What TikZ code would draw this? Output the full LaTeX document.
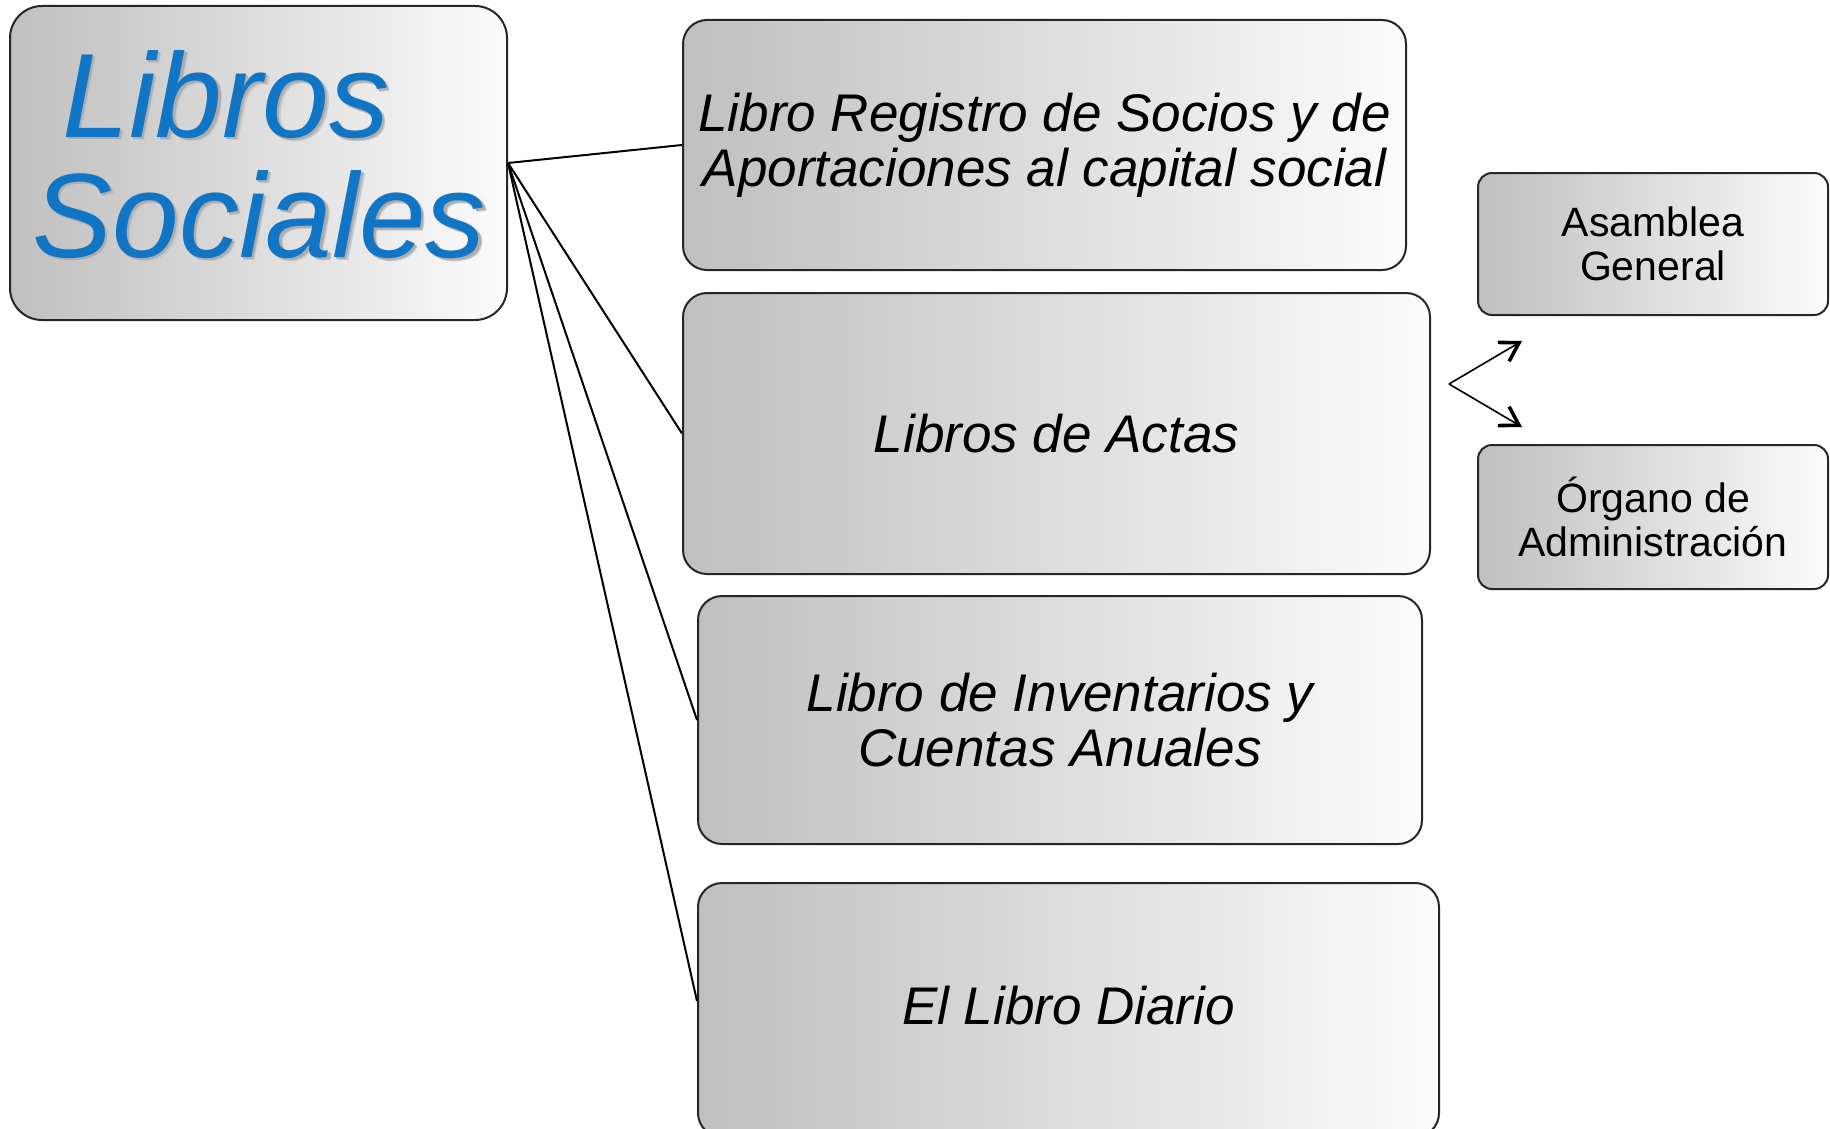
\documentclass[tikz,border=0pt]{standalone}
\usepackage{fontspec}
\setmainfont{Liberation Sans}
\usetikzlibrary{arrows.meta,calc}
\definecolor{gL}{gray}{0.75}
\definecolor{gR}{gray}{0.985}
\definecolor{lblue}{RGB}{16,117,196}
\newcommand{\shadowed}[1]{\makebox[0pt][l]{\hspace{1.8pt}\raisebox{-1.8pt}{\textcolor{black!22}{#1}}}\makebox[0pt][l]{\hspace{1.2pt}\raisebox{-1.2pt}{\textcolor{black!32}{#1}}}\textcolor{lblue}{#1}}
\begin{document}
\begin{tikzpicture}[x=0.5pt,y=-0.5pt,
  box/.style={draw=black!85, line width=1pt, left color=gL, right color=gR,
    align=center, inner sep=0pt, rounded corners=12pt,
    font=\itshape\fontsize{26.5}{27.5}\selectfont},
  smallbox/.style={box, rounded corners=7pt, font=\fontsize{20.5}{22}\selectfont},
  bigtxt/.style={anchor=base west, inner sep=0pt, font=\itshape\fontsize{60}{60}\selectfont},
  conn/.style={draw=black, line width=1pt},
  arr/.style={draw=black, line width=0.8pt, -{Straight Barb[length=9pt,width=11pt,line width=1.8pt]}}]
\useasboundingbox (0,0) rectangle (1830,1129);
% main box
\node[box, rounded corners=16pt, minimum width=248.5pt, minimum height=157pt] (main) at (258.5,163) {};
\node[bigtxt] (t1) at (62,137) {\shadowed{Libros}};
\node[bigtxt] (t2) at (32,257) {\shadowed{Sociales}};
% book boxes
\node[box, minimum width=361.5pt, minimum height=125pt] (b1) at (1044.5,145)
  {Libro Registro de Socios y de\\Aportaciones al capital social};
\node[box, minimum width=373.5pt, minimum height=140.5pt] (b2) at (1056.5,433.5)
  {Libros de Actas};
\node[box, minimum width=362pt, minimum height=124pt] (b3) at (1060,720)
  {Libro de Inventarios y\\Cuentas Anuales};
\node[box, minimum width=370.5pt, minimum height=127pt, text depth=0pt] (b4) at (1068.5,1010)
  {\raisebox{0pt}{El Libro Diario}\\[-23pt]\strut};
% right boxes
\node[smallbox, minimum width=175pt, minimum height=71pt] (a1) at (1653,244)
  {Asamblea\\General};
\node[smallbox, minimum width=175pt, minimum height=72pt] (a2) at (1653,517)
  {Órgano de\\Administración};
% connectors
\coordinate (b4in) at ($(b4.north west)!0.465!(b4.south west)$);
\draw[conn] (main.east) -- (b1.west);
\draw[conn] (main.east) -- (b2.west);
\draw[conn] (main.east) -- (b3.west);
\draw[conn] (main.east) -- (b4in);
% arrows
\coordinate (v) at (1449,384);
\coordinate (up) at (1522,341);
\coordinate (dn) at (1522,427);
\draw[arr] (v) -- (up);
\draw[arr] (v) -- (dn);
\end{tikzpicture}
\end{document}
